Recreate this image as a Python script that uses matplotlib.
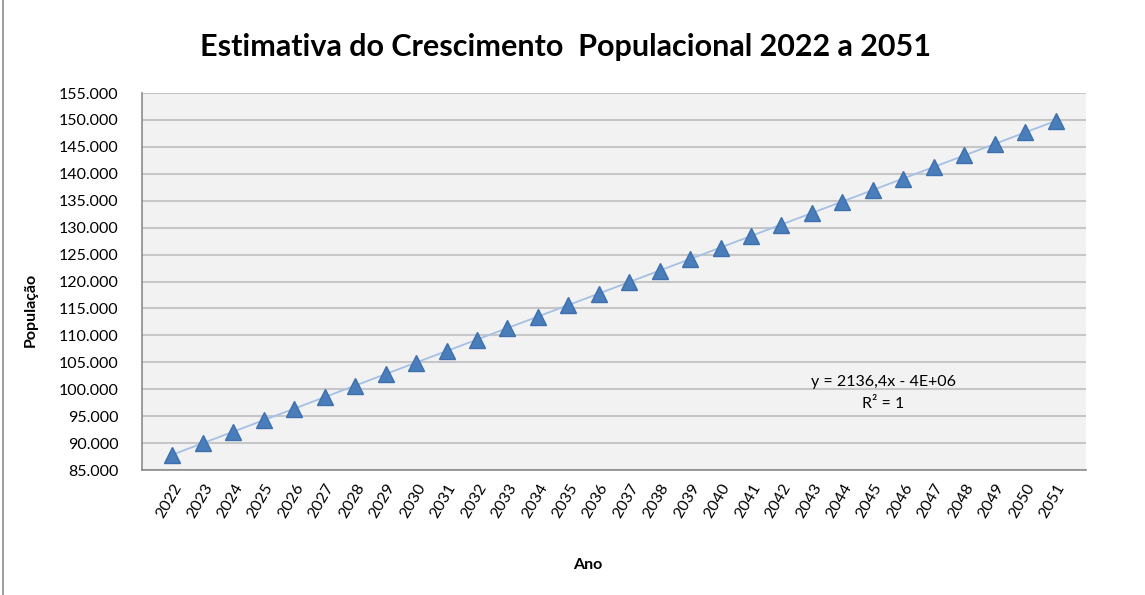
import matplotlib
matplotlib.use("Agg")
import matplotlib.pyplot as plt
import numpy as np
from matplotlib.patches import Rectangle
from matplotlib.ticker import FuncFormatter

years = list(range(2022, 2052))
populacao = [87850, 89990, 92120, 94260, 96400, 98530, 100670, 102810, 104940, 107080,
             109210, 111350, 113490, 115620, 117760, 119900, 122030, 124170, 126310, 128440,
             130580, 132710, 134850, 136990, 139120, 141260, 143400, 145530, 147670, 149810]
y_ticks = list(range(85000, 155001, 5000))
title = "Estimativa do Crescimento  Populacional 2022 a 2051"
eq_text = "y = 2136,4x - 4E+06"
r2_text = "R² = 1"

plt.rcParams['font.family'] = ['Lato', 'DejaVu Sans']

fig = plt.figure(figsize=(11.45, 5.95), dpi=100)
fig.patches.append(Rectangle((3/1145, -0.01), 1.1, 1.1 - 3/595, transform=fig.transFigure,
                             fill=False, edgecolor='#8C8C8C', linewidth=1.2))
ax = fig.add_axes([142/1145, 1 - 470/595, (1086 - 142)/1145, (470 - 93)/595])
ax.set_facecolor('#F2F2F2')

ax.set_xlim(years[0] - 1, years[-1] + 1)
ax.set_ylim(y_ticks[0], y_ticks[-1])
ax.set_yticks(y_ticks)
ax.yaxis.set_major_formatter(FuncFormatter(lambda v, p: f"{int(v):,}".replace(",", ".")))
ax.set_xticks(years)
ax.set_xticklabels([str(y) for y in years], rotation=60, ha='right', rotation_mode='anchor')
ax.tick_params(axis='both', length=0, labelsize=11.5, colors='#000000')
ax.tick_params(axis='y', pad=17)
ax.tick_params(axis='x', pad=8)

ax.grid(axis='y', color='#C6C6C6', linewidth=1.5)
ax.set_axisbelow(True)
for s in ['top', 'right']:
    ax.spines[s].set_visible(False)
ax.spines['left'].set_color('#8C8C8C')
ax.spines['bottom'].set_color('#8C8C8C')
ax.spines['left'].set_linewidth(1.2)
ax.spines['bottom'].set_linewidth(1.2)

coef = np.polyfit(years, populacao, 1)
xs = np.array([years[0], years[-1]])
ax.plot(xs, np.polyval(coef, xs), color='#A5C0E4', linewidth=1.3, zorder=2)
ax.plot(years, populacao, linestyle='none', marker='^', markersize=11,
        color='#4A7EBB', markeredgecolor='#3E6FAE', zorder=3)

ax.text(0.785, 1 - (382 - 93)/377, eq_text, transform=ax.transAxes, ha='center', va='center', fontsize=11.5)
ax.text(0.785, 1 - (404 - 93)/377, r2_text, transform=ax.transAxes, ha='center', va='center', fontsize=11.5)

fig.text(566/1145, 1 - 47/595, title, ha='center', va='center', fontsize=22, fontweight='bold')
fig.text(588/1145, 1 - 565/595, "Ano", ha='center', va='center', fontsize=11.5, fontweight='bold')
fig.text(31/1145, 1 - 310/595, "População", ha='center', va='center', fontsize=11.5,
         fontweight='bold', rotation=90)

fig.savefig("out.png", dpi=100)
